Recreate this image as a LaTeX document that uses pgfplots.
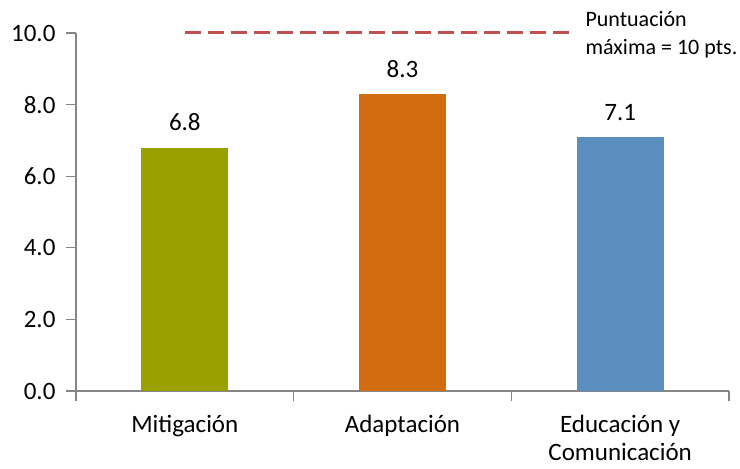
\documentclass[border=0pt]{standalone}
\usepackage{fontspec}
\setmainfont{Carlito}
\usepackage{pgfplots}
\pgfplotsset{compat=1.18}
\definecolor{cOlive}{HTML}{98A100}
\definecolor{cOrange}{HTML}{D16C10}
\definecolor{cBlue}{HTML}{5C8EC0}
\definecolor{cRed}{HTML}{C0504D}
\definecolor{cAxis}{HTML}{868686}
\begin{document}
\fontsize{25}{29}\selectfont
\begin{tikzpicture}
\path[use as bounding box] (-76pt,-78pt) rectangle (664pt,391pt);
\begin{axis}[
  at={(0,0)}, anchor=south west,
  scale only axis, width=653pt, height=358pt,
  xmin=-0.5, xmax=2.5, ymin=0, ymax=10,
  axis x line*=bottom, axis y line*=left,
  axis line style={cAxis, line width=1.2pt},
  tick align=outside,
  xtick={0,1,2},
  xticklabels={Mitigación, Adaptación, {Educación y\\Comunicación}},
  xticklabel style={align=center, font=\fontsize{25}{28}\selectfont, inner sep=1pt, yshift=-13pt},
  major x tick style={draw=none},
  minor xtick={-0.5,0.5,1.5,2.5},
  minor tick length=10pt,
  minor x tick style={cAxis, line width=1.2pt},
  ytick={0,2,4,6,8,10},
  major tick length=10pt,
  major y tick style={cAxis, line width=1.2pt},
  yticklabel style={font=\fontsize{25}{29}\selectfont, xshift=-2pt},
  /pgf/number format/.cd, fixed, fixed zerofill, precision=1, assume math mode=true,
  /pgfplots/.cd,
  clip=false,
  enlargelimits=false,
]
\addplot[ybar, bar width=87pt, fill=cOlive, draw=none,
  nodes near coords, nodes near coords style={font=\fontsize{25}{29}\selectfont, yshift=8pt, /pgf/number format/.cd, fixed, fixed zerofill, precision=1, assume math mode=true}]
  coordinates {(0,6.8)};
\addplot[ybar, bar width=87pt, fill=cOrange, draw=none,
  nodes near coords, nodes near coords style={font=\fontsize{25}{29}\selectfont, yshift=8pt, /pgf/number format/.cd, fixed, fixed zerofill, precision=1, assume math mode=true}]
  coordinates {(1,8.3)};
\addplot[ybar, bar width=87pt, fill=cBlue, draw=none,
  nodes near coords, nodes near coords style={font=\fontsize{25}{29}\selectfont, yshift=8pt, /pgf/number format/.cd, fixed, fixed zerofill, precision=1, assume math mode=true}]
  coordinates {(2,7.1)};
\addplot[cRed, line width=3pt, dash pattern=on 16pt off 7pt] coordinates {(0,10) (1.77,10)};
\node[anchor=base west, inner sep=0pt, font=\fontsize{22}{26}\selectfont] at (axis cs:1.84,10.17) {Puntuación};
\node[anchor=base west, inner sep=0pt, font=\fontsize{22}{26}\selectfont] at (axis cs:1.84,9.39) {máxima = 10 pts.};
\end{axis}
\end{tikzpicture}
\end{document}
